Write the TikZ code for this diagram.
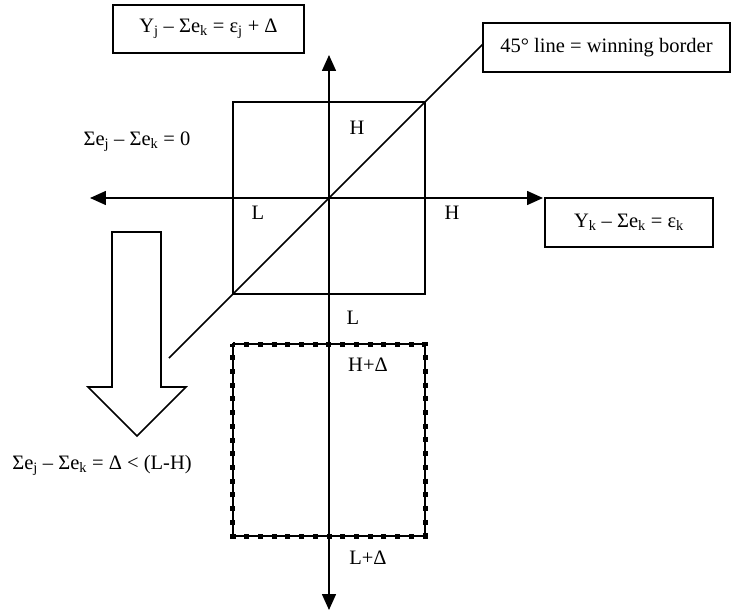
\documentclass[tikz,border=0pt]{standalone}
\usepackage{fontspec}
\setmainfont{Liberation Serif}
\usetikzlibrary{calc,positioning,arrows.meta}

\begin{document}
\begin{tikzpicture}[x=1pt, y=1pt,
	lbl/.style={inner sep=0pt, font=\fontsize{20.5}{24}\selectfont},
	eqbox/.style={draw, line width=1.6pt, fill=white, inner sep=0pt, font=\fontsize{20.5}{24}\selectfont},
	axis/.style={line width=1.6pt, -{Triangle[length=16pt, width=14pt]}}]
		\useasboundingbox (-329, 198) rectangle (410, -415);

		\node (origin) at (0, 0) {};
		\node (top) at ($(origin) + (0, 143)$) {};
		\node (bottom) at ($(origin) + (0, -412)$) {};
		\node (left) at ($(origin) + (-239, 0)$) {};
		\node (right) at ($(origin) + (214, 0)$) {};

		% solid square and the shifted one
		\draw[line width=1.8pt] (-96, 96) rectangle (96, -96);
		\draw[line width=1.6pt] (-96, -146) rectangle (96, -338);
		\draw[line width=5pt, dash pattern=on 5pt off 8.714pt, dash phase=2.5pt] (-96, -146) -- (96, -146) -- (96, -338) -- (-96, -338) -- cycle;

		\draw[axis] (origin.center) -- (top.center);
		\draw[axis] (origin.center) -- (bottom.center);
		\draw[axis] (origin.center) -- (left.center);
		\draw[axis] (origin.center) -- (right.center);

		\node at (-160, -160) (lowend) {};
		\node at (154, 154) (highend) {};
		\draw[line width=1.6pt] (lowend.center) -- (highend.center);

		\node[eqbox, minimum width=191pt, minimum height=48pt] at (-120.5, 169) (yj) {Y\textsubscript{j} – Σe\textsubscript{k} = ε\textsubscript{j} + Δ};
		\node[eqbox, line width=2.2pt, minimum width=247pt, minimum height=49pt] at (277.5, 150.5) (border) {45° line = winning border};
		\node[eqbox, minimum width=168pt, minimum height=49pt] at (300, -24.5) (yk) {Y\textsubscript{k} – Σe\textsubscript{k} = ε\textsubscript{k}};

		% big hollow arrow
		\draw[line width=1.6pt, fill=white] (-217, -34) -- (-168, -34) -- (-168, -189) -- (-143, -189) -- (-192, -238) -- (-241, -189) -- (-217, -189) -- cycle;

		\node[lbl] at (28, 70) (hup) {H};
		\node[lbl] at (-71, -15) (lleft) {L};
		\node[lbl] at (123, -15) (hright) {H};
		\node[lbl] at (24, -120) (ldown) {L};
		\node[lbl] at (39, -167) (hdelta) {H+Δ};
		\node[lbl] at (39, -360) (ldelta) {L+Δ};
		\node[lbl] at (-192, 56) (eqzero) {Σe\textsubscript{j} – Σe\textsubscript{k} = 0};
		\node[lbl] at (-227, -267) (eqdelta) {Σe\textsubscript{j} – Σe\textsubscript{k} = Δ < (L-H)};
\end{tikzpicture}
\end{document}
